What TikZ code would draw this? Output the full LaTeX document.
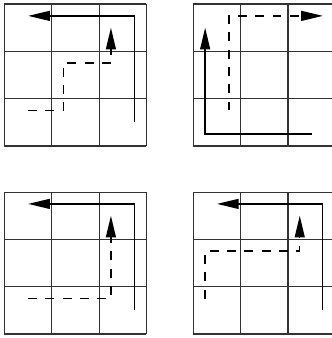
\documentclass[tikz,border=0pt]{standalone}
\usepackage{tikz}
\usetikzlibrary{arrows.meta, positioning, calc}

\tikzset{
    griglia/.style={draw=black!80, line width=0.7pt},
    percorso/.style={black, line width=0.9pt, -{Triangle[length=4.6mm, width=2.1mm]}},
    tratteggio/.style={percorso, dash pattern=on 5.4pt off 5pt}
}

\begin{document}
\begin{tikzpicture}
    \useasboundingbox (0,0) rectangle (7.019,7.146);

    % Origini delle quattro griglie
    \coordinate (G1) at (0.095, 4.06);
    \coordinate (G2) at (4.087, 4.06);
    \coordinate (G3) at (0.095, 0.085);
    \coordinate (G4) at (4.087, 0.085);

    % Griglie 3x3
    \foreach \g in {G1, G2, G3, G4} {
        \draw[griglia, shift={(\g)}] (0,0) grid (3,3);
    }

    % Primo schema
    \begin{scope}[shift={(G1)}]
        \draw[percorso] (2.75,0.5) -- (2.75,2.75) -- (0.5,2.75);
        \draw[tratteggio] (0.5,0.75) -- (1.25,0.75) -- (1.25,1.75) -- (2.25,1.75) -- (2.25,2.5);
    \end{scope}

    % Secondo schema
    \begin{scope}[shift={(G2)}]
        \draw[percorso] (2.5,0.25) -- (0.25,0.25) -- (0.25,2.5);
        \draw[tratteggio] (0.75,0.75) -- (0.75,2.75) -- (2.74,2.75);
    \end{scope}

    % Terzo schema
    \begin{scope}[shift={(G3)}]
        \draw[percorso] (2.75,0.5) -- (2.75,2.75) -- (0.5,2.75);
        \draw[tratteggio] (0.5,0.75) -- (2.25,0.75) -- (2.25,2.5);
    \end{scope}

    % Quarto schema
    \begin{scope}[shift={(G4)}]
        \draw[percorso] (2.73,0.5) -- (2.73,2.75) -- (0.5,2.75);
        \draw[tratteggio] (0.25,0.75) -- (0.25,1.75) -- (2.25,1.75) -- (2.25,2.5);
    \end{scope}
\end{tikzpicture}
\end{document}
